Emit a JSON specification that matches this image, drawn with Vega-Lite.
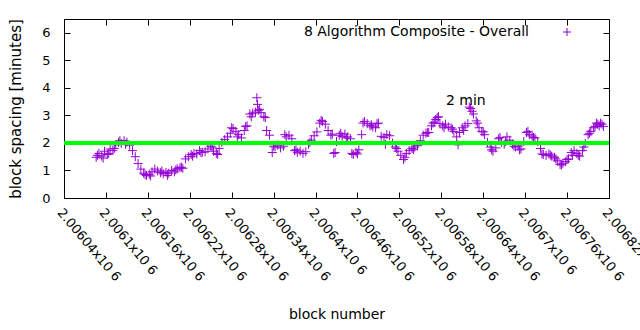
{
  "$schema": "https://vega.github.io/schema/vega-lite/v6.json",
  "width": 545,
  "height": 179,
  "autosize": {"type": "none"},
  "padding": {"left": 64, "top": 19, "right": 31, "bottom": 132},
  "background": "white",
  "config": {
    "view": {"stroke": "#000000", "strokeWidth": 1},
    "font": "DejaVu Sans",
    "axis": {"grid": false, "domain": false, "labelFont": "DejaVu Sans", "titleFont": "DejaVu Sans", "labelColor": "#000", "titleColor": "#000", "tickColor": "#000", "labelFontSize": 13, "titleFontSize": 14, "titleFontWeight": "normal"}
  },
  "datasets": {
    "blocks": [
      {"block": 2006086, "spacing": 1.48}, {"block": 2006088, "spacing": 1.55}, {"block": 2006090, "spacing": 1.62}, {"block": 2006094, "spacing": 1.52},
      {"block": 2006096, "spacing": 1.45}, {"block": 2006098, "spacing": 1.70}, {"block": 2006102, "spacing": 1.58}, {"block": 2006104, "spacing": 1.62},
      {"block": 2006106, "spacing": 1.78}, {"block": 2006110, "spacing": 1.72}, {"block": 2006112, "spacing": 1.80}, {"block": 2006114, "spacing": 1.93},
      {"block": 2006118, "spacing": 2.02}, {"block": 2006120, "spacing": 2.08}, {"block": 2006122, "spacing": 1.98}, {"block": 2006126, "spacing": 2.08},
      {"block": 2006128, "spacing": 1.95}, {"block": 2006130, "spacing": 2.03}, {"block": 2006134, "spacing": 1.92}, {"block": 2006138, "spacing": 1.72},
      {"block": 2006142, "spacing": 1.50}, {"block": 2006146, "spacing": 1.25}, {"block": 2006150, "spacing": 1.05}, {"block": 2006154, "spacing": 0.90},
      {"block": 2006156, "spacing": 0.85}, {"block": 2006158, "spacing": 0.82}, {"block": 2006162, "spacing": 0.86}, {"block": 2006164, "spacing": 0.80},
      {"block": 2006166, "spacing": 0.95}, {"block": 2006170, "spacing": 1.05}, {"block": 2006174, "spacing": 0.98}, {"block": 2006178, "spacing": 0.92},
      {"block": 2006180, "spacing": 0.98}, {"block": 2006182, "spacing": 0.88}, {"block": 2006186, "spacing": 0.93}, {"block": 2006188, "spacing": 0.82},
      {"block": 2006190, "spacing": 0.90}, {"block": 2006194, "spacing": 1.00}, {"block": 2006198, "spacing": 0.95}, {"block": 2006200, "spacing": 1.02},
      {"block": 2006202, "spacing": 1.06}, {"block": 2006206, "spacing": 1.10}, {"block": 2006208, "spacing": 1.12}, {"block": 2006210, "spacing": 1.08},
      {"block": 2006214, "spacing": 1.42}, {"block": 2006218, "spacing": 1.50}, {"block": 2006222, "spacing": 1.58}, {"block": 2006224, "spacing": 1.52},
      {"block": 2006226, "spacing": 1.62}, {"block": 2006230, "spacing": 1.60}, {"block": 2006234, "spacing": 1.72}, {"block": 2006236, "spacing": 1.65},
      {"block": 2006238, "spacing": 1.66}, {"block": 2006242, "spacing": 1.68}, {"block": 2006246, "spacing": 1.78}, {"block": 2006250, "spacing": 1.88},
      {"block": 2006252, "spacing": 1.85}, {"block": 2006254, "spacing": 1.70}, {"block": 2006258, "spacing": 1.62}, {"block": 2006260, "spacing": 1.58},
      {"block": 2006262, "spacing": 1.80}, {"block": 2006266, "spacing": 2.02}, {"block": 2006270, "spacing": 2.12}, {"block": 2006274, "spacing": 2.22},
      {"block": 2006278, "spacing": 2.35}, {"block": 2006280, "spacing": 2.55}, {"block": 2006282, "spacing": 2.52}, {"block": 2006286, "spacing": 2.42},
      {"block": 2006288, "spacing": 2.22}, {"block": 2006290, "spacing": 2.30}, {"block": 2006294, "spacing": 2.18}, {"block": 2006298, "spacing": 2.45},
      {"block": 2006300, "spacing": 2.60}, {"block": 2006302, "spacing": 2.62}, {"block": 2006306, "spacing": 3.05}, {"block": 2006308, "spacing": 2.95},
      {"block": 2006310, "spacing": 3.08}, {"block": 2006314, "spacing": 3.12}, {"block": 2006316, "spacing": 3.64}, {"block": 2006317, "spacing": 3.40},
      {"block": 2006318, "spacing": 3.18}, {"block": 2006320, "spacing": 3.22}, {"block": 2006322, "spacing": 3.10}, {"block": 2006326, "spacing": 2.95},
      {"block": 2006328, "spacing": 2.92}, {"block": 2006330, "spacing": 2.45}, {"block": 2006334, "spacing": 2.28}, {"block": 2006338, "spacing": 1.65},
      {"block": 2006340, "spacing": 1.88}, {"block": 2006342, "spacing": 1.85}, {"block": 2006346, "spacing": 1.92}, {"block": 2006350, "spacing": 1.82},
      {"block": 2006354, "spacing": 1.88}, {"block": 2006356, "spacing": 2.30}, {"block": 2006358, "spacing": 2.22}, {"block": 2006362, "spacing": 2.28},
      {"block": 2006366, "spacing": 2.15}, {"block": 2006370, "spacing": 1.72}, {"block": 2006372, "spacing": 1.75}, {"block": 2006374, "spacing": 1.66},
      {"block": 2006378, "spacing": 1.70}, {"block": 2006382, "spacing": 1.62}, {"block": 2006386, "spacing": 1.68}, {"block": 2006390, "spacing": 1.95},
      {"block": 2006392, "spacing": 2.02}, {"block": 2006394, "spacing": 2.10}, {"block": 2006398, "spacing": 2.26}, {"block": 2006402, "spacing": 2.40},
      {"block": 2006406, "spacing": 2.72}, {"block": 2006408, "spacing": 2.82}, {"block": 2006410, "spacing": 2.78}, {"block": 2006414, "spacing": 2.68},
      {"block": 2006418, "spacing": 2.45}, {"block": 2006422, "spacing": 2.28}, {"block": 2006424, "spacing": 2.32}, {"block": 2006426, "spacing": 1.62},
      {"block": 2006428, "spacing": 1.65}, {"block": 2006430, "spacing": 2.05}, {"block": 2006434, "spacing": 2.28}, {"block": 2006436, "spacing": 2.35},
      {"block": 2006438, "spacing": 2.24}, {"block": 2006442, "spacing": 2.32}, {"block": 2006444, "spacing": 2.18}, {"block": 2006446, "spacing": 2.22},
      {"block": 2006450, "spacing": 2.15}, {"block": 2006452, "spacing": 1.62}, {"block": 2006454, "spacing": 1.58}, {"block": 2006458, "spacing": 1.66},
      {"block": 2006460, "spacing": 1.60}, {"block": 2006462, "spacing": 1.75}, {"block": 2006466, "spacing": 2.30}, {"block": 2006468, "spacing": 2.72},
      {"block": 2006470, "spacing": 2.78}, {"block": 2006474, "spacing": 2.70}, {"block": 2006478, "spacing": 2.62}, {"block": 2006480, "spacing": 2.65},
      {"block": 2006482, "spacing": 2.58}, {"block": 2006486, "spacing": 2.55}, {"block": 2006488, "spacing": 2.70}, {"block": 2006490, "spacing": 2.72},
      {"block": 2006494, "spacing": 2.24}, {"block": 2006498, "spacing": 2.20}, {"block": 2006500, "spacing": 1.95}, {"block": 2006502, "spacing": 2.30},
      {"block": 2006506, "spacing": 2.26}, {"block": 2006510, "spacing": 2.00}, {"block": 2006514, "spacing": 1.85}, {"block": 2006516, "spacing": 1.80},
      {"block": 2006518, "spacing": 1.70}, {"block": 2006522, "spacing": 1.55}, {"block": 2006526, "spacing": 1.40}, {"block": 2006528, "spacing": 1.48},
      {"block": 2006530, "spacing": 1.62}, {"block": 2006534, "spacing": 1.72}, {"block": 2006538, "spacing": 1.80}, {"block": 2006540, "spacing": 1.75},
      {"block": 2006542, "spacing": 1.85}, {"block": 2006546, "spacing": 1.90}, {"block": 2006550, "spacing": 2.08}, {"block": 2006554, "spacing": 2.28},
      {"block": 2006558, "spacing": 2.35}, {"block": 2006560, "spacing": 2.38}, {"block": 2006562, "spacing": 2.38}, {"block": 2006566, "spacing": 2.62},
      {"block": 2006568, "spacing": 2.72}, {"block": 2006570, "spacing": 2.75}, {"block": 2006572, "spacing": 2.85}, {"block": 2006574, "spacing": 2.92},
      {"block": 2006576, "spacing": 2.95}, {"block": 2006578, "spacing": 2.70}, {"block": 2006582, "spacing": 2.62}, {"block": 2006584, "spacing": 2.55},
      {"block": 2006586, "spacing": 2.68}, {"block": 2006590, "spacing": 2.58}, {"block": 2006594, "spacing": 2.55}, {"block": 2006596, "spacing": 2.50},
      {"block": 2006598, "spacing": 2.42}, {"block": 2006602, "spacing": 2.22}, {"block": 2006604, "spacing": 1.93}, {"block": 2006606, "spacing": 2.38},
      {"block": 2006610, "spacing": 2.55}, {"block": 2006612, "spacing": 2.45}, {"block": 2006614, "spacing": 2.62}, {"block": 2006618, "spacing": 2.70},
      {"block": 2006620, "spacing": 3.30}, {"block": 2006622, "spacing": 3.25}, {"block": 2006624, "spacing": 3.15}, {"block": 2006626, "spacing": 3.05},
      {"block": 2006630, "spacing": 2.80}, {"block": 2006632, "spacing": 2.72}, {"block": 2006634, "spacing": 2.55}, {"block": 2006638, "spacing": 2.42},
      {"block": 2006640, "spacing": 2.40}, {"block": 2006642, "spacing": 2.30}, {"block": 2006646, "spacing": 2.02}, {"block": 2006650, "spacing": 1.85},
      {"block": 2006652, "spacing": 1.75}, {"block": 2006654, "spacing": 1.70}, {"block": 2006658, "spacing": 1.82}, {"block": 2006662, "spacing": 2.15},
      {"block": 2006664, "spacing": 2.20}, {"block": 2006666, "spacing": 2.02}, {"block": 2006670, "spacing": 1.95}, {"block": 2006672, "spacing": 2.05},
      {"block": 2006674, "spacing": 2.22}, {"block": 2006678, "spacing": 2.10}, {"block": 2006682, "spacing": 1.95}, {"block": 2006684, "spacing": 1.88},
      {"block": 2006686, "spacing": 1.85}, {"block": 2006690, "spacing": 1.88}, {"block": 2006692, "spacing": 1.75}, {"block": 2006694, "spacing": 1.78},
      {"block": 2006698, "spacing": 2.05}, {"block": 2006702, "spacing": 2.38}, {"block": 2006704, "spacing": 2.42}, {"block": 2006706, "spacing": 2.30},
      {"block": 2006710, "spacing": 2.25}, {"block": 2006712, "spacing": 2.20}, {"block": 2006714, "spacing": 2.18}, {"block": 2006718, "spacing": 2.05},
      {"block": 2006722, "spacing": 1.80}, {"block": 2006724, "spacing": 1.60}, {"block": 2006726, "spacing": 1.58}, {"block": 2006730, "spacing": 1.55},
      {"block": 2006734, "spacing": 1.60}, {"block": 2006736, "spacing": 1.56}, {"block": 2006738, "spacing": 1.52}, {"block": 2006742, "spacing": 1.48},
      {"block": 2006744, "spacing": 1.42}, {"block": 2006746, "spacing": 1.35}, {"block": 2006750, "spacing": 1.22}, {"block": 2006752, "spacing": 1.20},
      {"block": 2006754, "spacing": 1.26}, {"block": 2006758, "spacing": 1.32}, {"block": 2006760, "spacing": 1.40}, {"block": 2006762, "spacing": 1.42},
      {"block": 2006766, "spacing": 1.65}, {"block": 2006768, "spacing": 1.55}, {"block": 2006770, "spacing": 1.72}, {"block": 2006774, "spacing": 1.62},
      {"block": 2006776, "spacing": 1.55}, {"block": 2006778, "spacing": 1.52}, {"block": 2006782, "spacing": 1.72}, {"block": 2006784, "spacing": 1.85},
      {"block": 2006786, "spacing": 1.98}, {"block": 2006790, "spacing": 2.30}, {"block": 2006792, "spacing": 2.35}, {"block": 2006794, "spacing": 2.42},
      {"block": 2006798, "spacing": 2.55}, {"block": 2006800, "spacing": 2.60}, {"block": 2006802, "spacing": 2.72}, {"block": 2006804, "spacing": 2.68},
      {"block": 2006806, "spacing": 2.62}, {"block": 2006808, "spacing": 2.72}, {"block": 2006810, "spacing": 2.68}, {"block": 2006812, "spacing": 2.60}
    ]
  },
  "layer": [
    {
      "data": {"name": "blocks"},
      "mark": {"type": "point", "shape": "M-1,0L1,0M0,-1L0,1", "filled": false, "strokeWidth": 1, "size": 81, "opacity": 1},
      "encoding": {
        "x": {"field": "block", "type": "quantitative", "title": "block number",
          "scale": {"domain": [2006040, 2006820], "nice": false, "zero": false},
          "axis": {"orient": "bottom", "values": [2006040, 2006100, 2006160, 2006220, 2006280, 2006340, 2006400, 2006460, 2006520, 2006580, 2006640, 2006700, 2006760, 2006820],
            "labelExpr": "format(datum.value / 1000000, '~g') + 'x10 6'",
            "labelAngle": 50, "labelAlign": "left", "labelBaseline": "top", "labelPadding": 14, "tickSize": -6,
            "labelFlush": false, "labelOverlap": false, "labelBound": false, "titlePadding": 24}},
        "y": {"field": "spacing", "type": "quantitative", "title": "block spacing [minutes]",
          "scale": {"domain": [0, 6.5], "nice": false},
          "axis": {"orient": "left", "values": [0, 1, 2, 3, 4, 5, 6], "tickSize": -6, "labelPadding": 20, "titlePadding": 18, "titleFontSize": 15}},
        "color": {"datum": "8 Algorithm Composite - Overall", "type": "nominal",
          "scale": {"range": ["#9400D3"]},
          "legend": {"title": null, "orient": "none", "legendX": 496, "legendY": 6, "padding": 0,
            "symbolType": "M-1,0L1,0M0,-1L0,1", "symbolSize": 64, "symbolStrokeWidth": 1, "symbolFillColor": "transparent", "symbolStrokeColor": "#9400D3",
            "labelAlign": "right", "labelOffset": -45, "labelFontSize": 14, "labelFont": "DejaVu Sans", "labelColor": "#000", "labelLimit": 0}}
      }
    },
    {
      "data": {"values": [{}]},
      "mark": {"type": "rule", "color": "#00FF00", "strokeWidth": 4},
      "encoding": {
        "x": {"datum": 2006040, "type": "quantitative", "scale": {"domain": [2006040, 2006820], "nice": false, "zero": false},
          "axis": {"orient": "top", "values": [2006040, 2006100, 2006160, 2006220, 2006280, 2006340, 2006400, 2006460, 2006520, 2006580, 2006640, 2006700, 2006760, 2006820], "labels": false, "tickSize": -6, "title": null}},
        "x2": {"datum": 2006820},
        "y": {"datum": 2, "type": "quantitative", "scale": {"domain": [0, 6.5], "nice": false},
          "axis": {"orient": "right", "values": [0, 1, 2, 3, 4, 5, 6], "labels": false, "tickSize": -6, "title": null}}
      }
    },
    {
      "data": {"values": [{}]},
      "mark": {"type": "text", "fontSize": 14, "font": "DejaVu Sans", "align": "center", "baseline": "middle", "color": "#000"},
      "encoding": {
        "x": {"datum": 2006615, "type": "quantitative", "scale": {"domain": [2006040, 2006820], "nice": false, "zero": false}, "axis": null},
        "y": {"datum": 3.52, "type": "quantitative", "scale": {"domain": [0, 6.5], "nice": false}, "axis": null},
        "text": {"value": "2 min"}
      }
    }
  ],
  "resolve": {"scale": {"x": "independent", "y": "independent"}}
}
